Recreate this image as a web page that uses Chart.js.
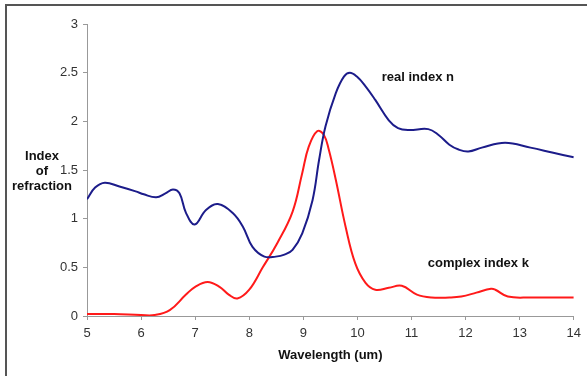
<!DOCTYPE html>
<html>
<head>
<meta charset="utf-8">
<script src="https://cdn.jsdelivr.net/npm/chart.js@4"></script>
<style>
  html, body { margin: 0; padding: 0; background: #fff; }
  #wrap { width: 587px; height: 376px; position: relative; }
</style>
</head>
<body>
<div id="wrap"><canvas id="c" width="587" height="376"></canvas></div>
<script>
// ---- data ----
const wavelengthN = [5.0, 5.15, 5.33, 5.6, 5.9, 6.05, 6.28, 6.45, 6.59, 6.71, 6.83, 6.99, 7.2, 7.42, 7.69, 7.88, 8.06, 8.28, 8.49, 8.65, 8.8, 8.98, 9.17, 9.29, 9.41, 9.6, 9.75, 9.86, 9.99, 10.15, 10.33, 10.58, 10.75, 10.95, 11.31, 11.5, 11.7, 11.87, 12.05, 12.3, 12.73, 13.2, 13.6, 14.0];
const realN = [1.20, 1.32, 1.37, 1.33, 1.28, 1.25, 1.22, 1.26, 1.30, 1.26, 1.06, 0.94, 1.09, 1.15, 1.06, 0.92, 0.71, 0.61, 0.61, 0.63, 0.68, 0.85, 1.19, 1.60, 1.95, 2.29, 2.46, 2.50, 2.46, 2.36, 2.22, 2.01, 1.93, 1.91, 1.92, 1.86, 1.76, 1.71, 1.69, 1.73, 1.78, 1.73, 1.68, 1.63];
const wavelengthK = [5.0, 5.5, 6.0, 6.25, 6.53, 6.83, 7.0, 7.23, 7.45, 7.62, 7.78, 8.0, 8.25, 8.52, 8.8, 8.98, 9.1, 9.26, 9.38, 9.47, 9.6, 9.78, 9.96, 10.15, 10.33, 10.58, 10.82, 11.1, 11.37, 11.7, 11.92, 12.2, 12.47, 12.55, 12.78, 13.2, 14.0];
const complexK = [0.02, 0.02, 0.01, 0.01, 0.06, 0.22, 0.30, 0.35, 0.30, 0.22, 0.18, 0.27, 0.50, 0.75, 1.07, 1.47, 1.74, 1.90, 1.86, 1.71, 1.40, 0.92, 0.54, 0.34, 0.27, 0.29, 0.31, 0.22, 0.19, 0.19, 0.20, 0.24, 0.28, 0.27, 0.20, 0.19, 0.19];
const xTicks = [5, 6, 7, 8, 9, 10, 11, 12, 13, 14];
const yTicks = [0, 0.5, 1, 1.5, 2, 2.5, 3];
const seriesLabels = ['real index n', 'complex index k'];
const xTitle = 'Wavelength (um)';
const yTitleLines = ['Index', 'of', 'refraction'];

const FONT = '"Liberation Sans", Arial, sans-serif';

const toPts = (xs, ys) => xs.map((x, i) => ({ x: x, y: ys[i] }));

const decor = {
  id: 'decor',
  beforeDraw(chart) {
    const ctx = chart.ctx;
    ctx.save();
    ctx.fillStyle = '#fff';
    ctx.fillRect(0, 0, chart.width, chart.height);
    ctx.strokeStyle = '#555';
    ctx.lineWidth = 2;
    ctx.beginPath();
    ctx.moveTo(6, chart.height + 2);
    ctx.lineTo(6, 5);
    ctx.lineTo(chart.width + 2, 5);
    ctx.stroke();
    ctx.restore();
  },
  afterDraw(chart) {
    const ctx = chart.ctx;
    const ca = chart.chartArea;
    const xs = chart.scales.x, ys = chart.scales.y;
    ctx.save();
    ctx.fillStyle = '#111';
    ctx.font = 'bold 13px ' + FONT;
    ctx.textBaseline = 'middle';
    ctx.textAlign = 'center';
    const yc = (ca.top + ca.bottom) / 2;
    yTitleLines.forEach((t, i) => ctx.fillText(t, 42, yc - 14 + i * 15));
    ctx.fillText(xTitle, (ca.left + ca.right) / 2, 355);
    ctx.textAlign = 'left';
    ctx.fillText(seriesLabels[0], xs.getPixelForValue(10.45), ys.getPixelForValue(2.45));
    ctx.fillText(seriesLabels[1], xs.getPixelForValue(11.3), ys.getPixelForValue(0.54));
    ctx.restore();
  }
};

new Chart(document.getElementById('c'), {
  type: 'line',
  data: {
    datasets: [
      { label: seriesLabels[0], data: toPts(wavelengthN, realN), borderColor: '#1c1c8a', borderWidth: 2, pointRadius: 0, tension: 0.4, fill: false },
      { label: seriesLabels[1], data: toPts(wavelengthK, complexK), borderColor: '#ff1a1a', borderWidth: 2, pointRadius: 0, tension: 0.4, fill: false }
    ]
  },
  options: {
    responsive: false,
    animation: false,
    devicePixelRatio: 1,
    layout: { padding: { left: 0, top: 24, right: 11, bottom: 0 } },
    plugins: { legend: { display: false }, tooltip: { enabled: false } },
    scales: {
      x: {
        type: 'linear', min: 5, max: 14,
        afterBuildTicks: s => { s.ticks = xTicks.map(v => ({ value: v })); },
        afterFit: s => { s.height = 60; },
        ticks: { color: '#333', font: { family: FONT, size: 13 }, padding: 6, maxRotation: 0, callback: v => String(v) },
        grid: { drawOnChartArea: false, drawTicks: true, tickLength: 4, color: '#999' },
        border: { color: '#999', width: 1 }
      },
      y: {
        type: 'linear', min: 0, max: 3,
        afterBuildTicks: s => { s.ticks = yTicks.map(v => ({ value: v })); },
        afterFit: s => { s.width = 87; },
        ticks: { color: '#333', font: { family: FONT, size: 13 }, padding: 5, callback: v => String(v) },
        grid: { drawOnChartArea: false, drawTicks: true, tickLength: 4, color: '#999' },
        border: { color: '#999', width: 1 }
      }
    }
  },
  plugins: [decor]
});
</script>
</body>
</html>
